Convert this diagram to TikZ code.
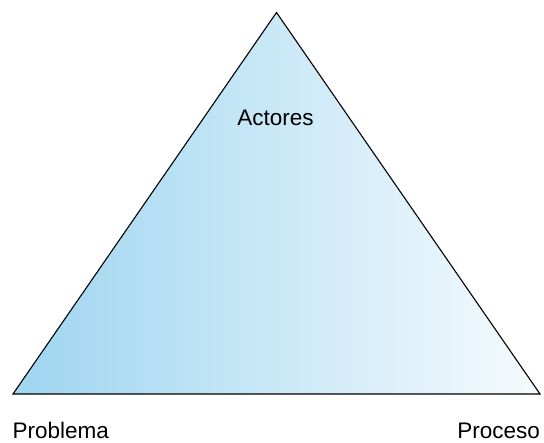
\documentclass[tikz,border=0pt]{standalone}
\usepackage{fontspec}
\setmainfont{Liberation Sans}
\begin{document}
\begin{tikzpicture}[x=1pt,y=1pt,
  lbl/.style={font=\fontsize{22.5}{26}\selectfont, inner sep=0pt}]
\useasboundingbox (0,0) rectangle (544,443);
\coordinate (apex) at (276.5,430.5);
\coordinate (bl) at (13,49);
\coordinate (br) at (540,49);
\shade[left color={rgb,255:red,158;green,213;blue,240}, right color={rgb,255:red,246;green,251;blue,254}]
  (bl) -- (apex) -- (br) -- cycle;
\draw[line width=1.1pt, line join=miter] (bl) -- (apex) -- (br) -- cycle;
\node[lbl] (act) at (275.5,325) {Actores};
\node[lbl, anchor=base west] (prob) at (12.5,4.5) {Problema};
\node[lbl, anchor=base east] (proc) at (540,4.5) {Proceso};
\end{tikzpicture}
\end{document}
